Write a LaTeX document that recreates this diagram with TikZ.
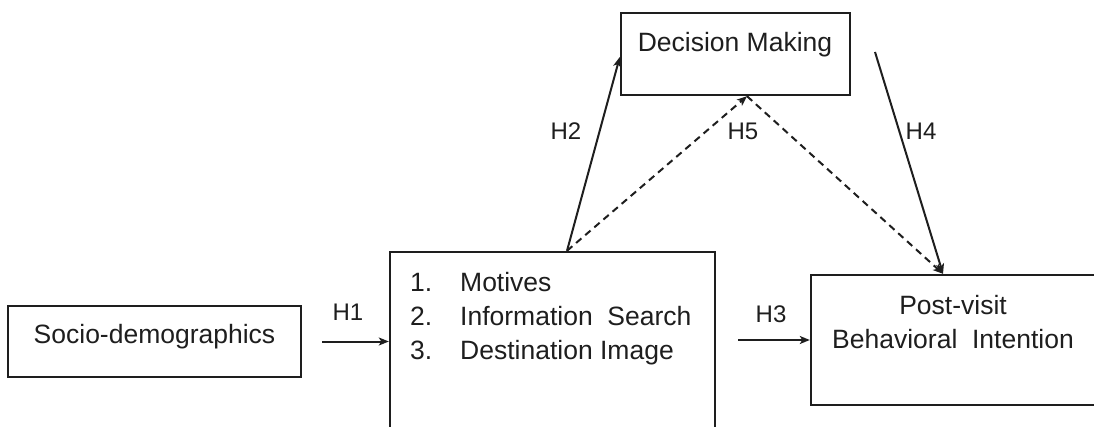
\documentclass[tikz,border=0pt]{standalone}
\usepackage{fontspec}
\setmainfont{Liberation Sans}
\usepackage{tikz}
\usetikzlibrary{arrows.meta,positioning,calc}
\definecolor{Ink}{HTML}{1E1E1E}

\begin{document}
\begin{tikzpicture}[
  x=1pt,y=-1pt,
  box/.style={draw=Ink,line width=2.4pt,inner sep=0pt},
  txt/.style={inner sep=0pt,font=\fontsize{26.5}{34}\selectfont,text=Ink},
  hyp/.style={inner sep=0pt,font=\fontsize{24}{28}\selectfont,text=Ink},
  arrow/.style={-{Stealth[length=10pt,width=8pt,inset=2.5pt]},line width=2pt,draw=Ink},
  dasharrow/.style={arrow,dash pattern=on 7pt off 5pt}
]
  \useasboundingbox (0,0) rectangle (1094,427);
  \clip (0,0) rectangle (1094,427);
  % boxes
  \node[box,minimum width=293pt,minimum height=71pt] (socio) at (154.5,341.5) {};
  \node[box,minimum width=325pt,minimum height=218pt] (mid) at (552.5,361) {};
  \node[box,minimum width=285pt,minimum height=130pt] (post) at (953.5,340) {};
  \node[box,minimum width=229pt,minimum height=82pt] (dec) at (735.5,54) {};
  % box texts
  \node[txt,anchor=base] (sociotxt) at (154.5,343) {Socio-demographics};
  \node[txt,anchor=base] (dectxt) at (735,52) {Decision Making};
  \node[txt,anchor=base west] (midtxt) at (410,292) {\begin{tabular}[t]{@{}p{50pt}@{}l@{}}
    1. & Motives\\
    2. & Information\ \ Search\\
    3. & Destination Image
  \end{tabular}};
  \node[txt,anchor=base] (posttxt) at (953,315) {\begin{tabular}[t]{@{}c@{}}
    Post-visit\\
    Behavioral\ \ Intention
  \end{tabular}};
  % hypotheses
  \coordinate (h4start) at (875,52);
  \draw[arrow,shorten <=20pt] (socio.east) -- (socio.east -| mid.west);
  \draw[arrow,shorten <=22pt] (post.west -| mid.east) -- (post.west);
  \draw[arrow] ([xshift=14.5pt]mid.north) -- ([yshift=-3pt]dec.west);
  \draw[dasharrow] ([xshift=14.5pt]mid.north) -- ([xshift=11.5pt]dec.south);
  \draw[dasharrow] ([xshift=11.5pt]dec.south) -- ([xshift=-10.5pt]post.north);
  \draw[arrow] (h4start) -- ([xshift=-10.5pt]post.north);
  \node[hyp,anchor=base] (h1) at (348,320) {H1};
  \node[hyp,anchor=base] (h3) at (771,323) {H3};
  \node[hyp,anchor=base] (h2) at (566,140) {H2};
  \node[hyp,anchor=base] (h5) at (743,140) {H5};
  \node[hyp,anchor=base] (h4) at (921,140) {H4};
\end{tikzpicture}
\end{document}
